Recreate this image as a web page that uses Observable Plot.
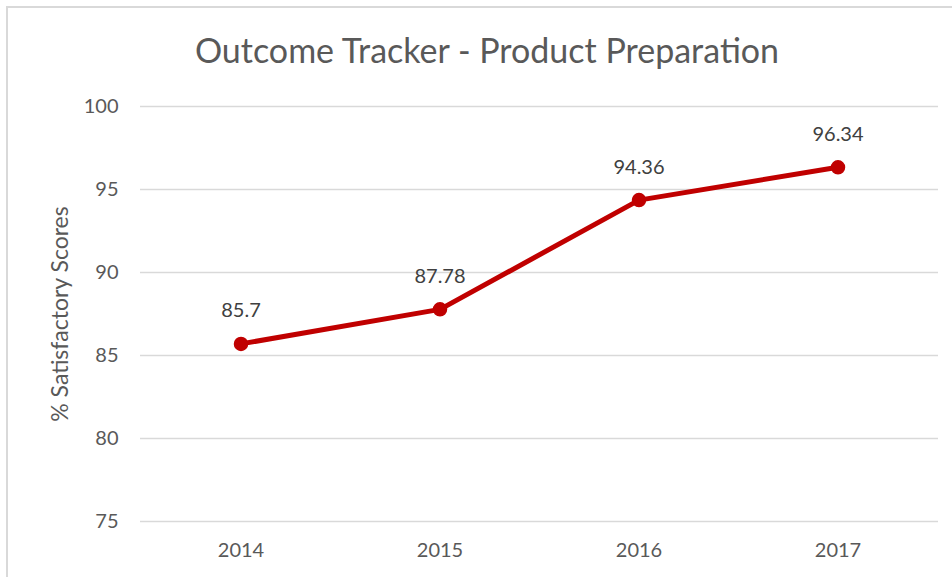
<!DOCTYPE html>
<html><head><meta charset="utf-8">
<script src="https://cdn.jsdelivr.net/npm/d3@7"></script>
<script src="https://cdn.jsdelivr.net/npm/@observablehq/plot@0.6"></script>
<style>
body{margin:0;background:#fff;overflow:hidden;}
#wrap{position:relative;width:952px;height:577px;overflow:hidden;font-family:Lato,"Open Sans",sans-serif;}
#frame{position:absolute;left:6px;top:6px;width:1100px;height:1100px;border:2px solid #d9d9d9;}
#title{position:absolute;left:0;top:28px;width:974px;text-align:center;font-size:34px;line-height:44px;color:#595959;}
#chart{position:absolute;left:0;top:0;}
</style></head>
<body><div id="wrap"><div id="frame"></div><div id="chart"></div><div id="title">Outcome Tracker - Product Preparation</div></div>
<script>
const years = ["2014","2015","2016","2017"];
const scores = [85.7, 87.78, 94.36, 96.34];
const yTicks = [75, 80, 85, 90, 95, 100];
const yLabel = "% Satisfactory Scores";
const data = years.map((y,i)=>({year:y, score:scores[i]}));
const red = "#C00000";
const chart = Plot.plot({
  width:952, height:577,
  marginLeft:140, marginRight:14, marginTop:106, marginBottom:56,
  style:{fontFamily:"Lato, 'Open Sans', sans-serif", background:"transparent"},
  x:{type:"band", domain:years, padding:0, label:null},
  y:{domain:[75,100], label:null},
  marks:[
    Plot.gridY(yTicks,{stroke:"#d9d9d9", strokeOpacity:1, strokeWidth:1.5}),
    Plot.axisY(yTicks,{tickSize:0, tickPadding:22, fontSize:20, fill:"#595959", label:null}),
    Plot.axisX({tickSize:0, tickPadding:21, fontSize:20, fill:"#595959", label:null}),
    Plot.text([yLabel],{frameAnchor:"left", dx:-80, rotate:-90, textAnchor:"middle", text:d=>d, fontSize:23, fill:"#595959"}),
    Plot.line(data,{x:"year", y:"score", stroke:red, strokeWidth:5}),
    Plot.dot(data,{x:"year", y:"score", r:6.5, fill:red, stroke:red}),
    Plot.text(data,{x:"year", y:"score", text:d=>String(d.score), dy:-33, fontSize:20, fill:"#404040"})
  ]
});
document.getElementById("chart").appendChild(chart);
</script></body></html>
